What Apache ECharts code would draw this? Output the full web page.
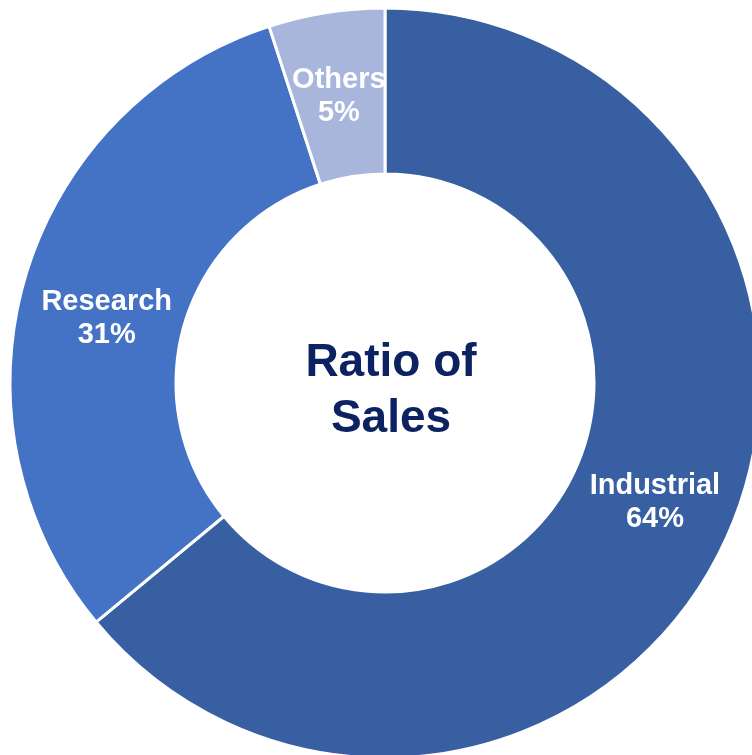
<!DOCTYPE html>
<html>
<head>
<meta charset="utf-8">
<script src="https://cdn.jsdelivr.net/npm/echarts@6/dist/echarts.min.js"></script>
<style>
  html, body { margin: 0; padding: 0; background: #fff; }
  #chart { width: 752px; height: 755px; }
</style>
</head>
<body>
<div id="chart"></div>
<script>
// 数据
const categories = ['Industrial', 'Research', 'Others'];
const shares = [64, 31, 5];
const colors = ['#375FA2', '#4472C4', '#A8B6DC'];
const labelShift = [[3, -6], [5, 18], [0, 5]];   // 标签微调
const centerText = 'Ratio of\nSales';

var myChart = echarts.init(document.getElementById('chart'));

var pieData = categories.map(function (name, i) {
    return {
        name: name,
        value: shares[i],
        itemStyle: { color: colors[i] },
        label: { offset: labelShift[i] }
    };
});

var option = {
    animation: false,
    title: {
        text: centerText,
        left: 386,
        top: 330,
        textAlign: 'center',
        textStyle: {
            fontFamily: 'Liberation Sans, Arial, sans-serif',
            fontWeight: 'bold',
            fontSize: 46,
            lineHeight: 56,
            color: '#0C2261'
        }
    },
    series: [{
        type: 'pie',
        center: [385, 383],
        radius: [209, 375],
        startAngle: 90,
        clockwise: true,
        avoidLabelOverlap: false,
        itemStyle: {
            borderColor: '#fff',
            borderWidth: 3
        },
        label: {
            show: true,
            position: 'inside',
            formatter: '{b}\n{d}%',
            color: '#fff',
            fontFamily: 'Liberation Sans, Arial, sans-serif',
            fontWeight: 'bold',
            fontSize: 29,
            lineHeight: 33
        },
        labelLine: { show: false },
        data: pieData
    }]
};

myChart.setOption(option);
</script>
</body>
</html>
